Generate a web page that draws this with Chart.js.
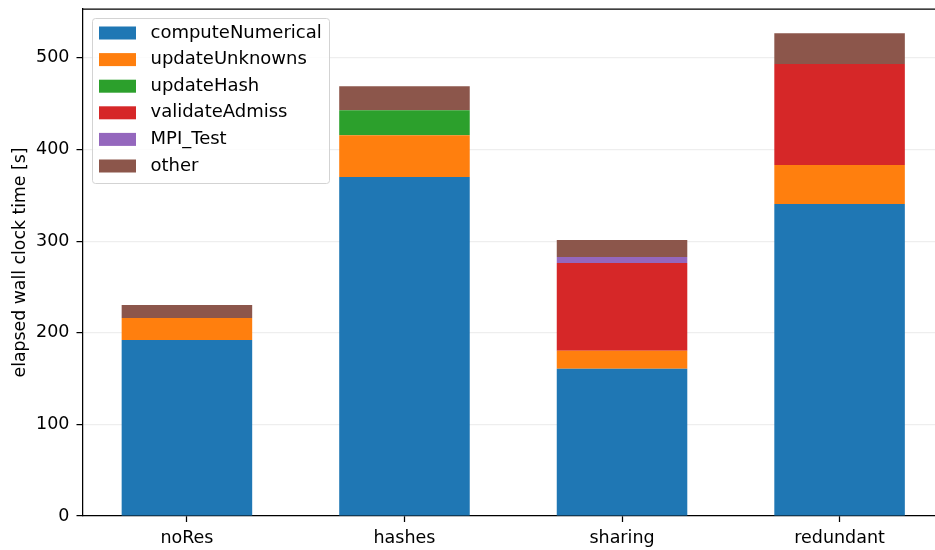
<!DOCTYPE html>
<html>
<head>
<meta charset="utf-8">
<script src="https://cdn.jsdelivr.net/npm/chart.js@4.4.0/dist/chart.umd.min.js"></script>
<style>
  html, body { margin: 0; padding: 0; background: #fff; overflow: hidden; }
  #wrap { width: 960px; height: 550px; }
</style>
</head>
<body>
<div id="wrap"><canvas id="timeChart"></canvas></div>
<script>
// categories (x) and the stacked series, in seconds
const categories = ['noRes', 'hashes', 'sharing', 'redundant'];
const computeNumerical = [192, 370, 160.6, 340.6];
const updateUnknowns = [24, 45.6, 19.7, 42.5];
const updateHash = [0, 27.3, 0, 0];
const validateAdmiss = [0, 0, 95.9, 110.1];
const mpiTest = [0, 0, 6.5, 0];
const other = [14.4, 26.2, 18.5, 33.8];
const yTicks = [0, 100, 200, 300, 400, 500];

const seriesNames = ['computeNumerical', 'updateUnknowns', 'updateHash', 'validateAdmiss', 'MPI_Test', 'other'];
const seriesValues = [computeNumerical, updateUnknowns, updateHash, validateAdmiss, mpiTest, other];
const seriesColors = ['#1f77b4', '#ff7f0e', '#2ca02c', '#d62728', '#9467bd', '#8c564b'];

const FONT = 'DejaVu Sans';
const barWidth = 0.6;
const xPad = (categories.length - 1 + barWidth) * 0.05;

// matplotlib style: 5% headroom above the tallest stack
const totals = categories.map((c, i) => seriesValues.reduce((s, arr) => s + arr[i], 0));
const yMax = Math.max(...totals) * 1.05;

const datasets = seriesNames.map((name, k) => ({
    label: name,
    data: seriesValues[k].map((v, i) => ({ x: i, y: v })),
    backgroundColor: seriesColors[k],
    borderWidth: 0,
    categoryPercentage: 1,
    barPercentage: barWidth
}));

// top spine + legend box drawn inside the plot like matplotlib
const frameAndLegend = {
    id: 'frameAndLegend',
    afterDraw(chart) {
        const ctx = chart.ctx;
        const area = chart.chartArea;
        ctx.save();
        ctx.strokeStyle = '#000';
        ctx.lineWidth = 1.25;
        ctx.beginPath();
        ctx.moveTo(area.left, area.top);
        ctx.lineTo(area.right, area.top);
        ctx.lineTo(area.right, area.bottom);
        ctx.stroke();

        const bx = area.left + 10, by = area.top + 9.5;
        ctx.beginPath();
        ctx.roundRect(bx, by, 237, 165, 3);
        ctx.fillStyle = 'rgba(255,255,255,0.8)';
        ctx.fill();
        ctx.strokeStyle = '#d3d3d3';
        ctx.lineWidth = 1;
        ctx.stroke();

        ctx.font = '18px "' + FONT + '"';
        ctx.textBaseline = 'middle';
        chart.data.datasets.forEach((ds, i) => {
            const y = by + 8 + i * 26.6;
            ctx.fillStyle = ds.backgroundColor;
            ctx.fillRect(bx + 6.5, y, 37, 13);
            ctx.fillStyle = '#000';
            ctx.fillText(ds.label, bx + 58, y + 6.5);
        });
        ctx.restore();
    }
};

const ctx = document.getElementById('timeChart').getContext('2d');
new Chart(ctx, {
    type: 'bar',
    data: { datasets: datasets },
    plugins: [frameAndLegend],
    options: {
        responsive: true,
        maintainAspectRatio: false,
        animation: false,
        layout: { padding: { top: 9, right: 16, left: 0, bottom: 0 } },
        plugins: {
            legend: { display: false },
            tooltip: { enabled: false }
        },
        scales: {
            x: {
                type: 'linear',
                stacked: true,
                offset: false,
                min: -barWidth / 2 - xPad,
                max: categories.length - 1 + barWidth / 2 + xPad,
                afterBuildTicks: axis => { axis.ticks = categories.map((c, i) => ({ value: i })); },
                afterFit: axis => { axis.height = 34; axis.paddingLeft = 0; axis.paddingRight = 0; },
                grid: { offset: false, drawOnChartArea: false, drawTicks: true, tickLength: 6, tickColor: '#000', tickWidth: 1.25 },
                border: { color: '#000', width: 1.25 },
                ticks: {
                    autoSkip: false,
                    padding: 6,
                    color: '#000',
                    font: { family: FONT, size: 17.5 },
                    callback: value => categories[value]
                }
            },
            y: {
                stacked: true,
                min: 0,
                max: yMax,
                z: 1,
                afterBuildTicks: axis => { axis.ticks = yTicks.map(v => ({ value: v })); },
                afterFit: axis => { axis.width = 82.5; axis.paddingTop = 0; axis.paddingBottom = 0; },
                grid: { color: 'rgba(200,200,200,0.3)', lineWidth: 1.2, tickLength: 6, tickColor: '#000', tickWidth: 1.25 },
                border: { color: '#000', width: 1.25 },
                ticks: {
                    padding: 7,
                    color: '#000',
                    font: { family: FONT, size: 17.5 }
                },
                title: {
                    display: true,
                    text: 'elapsed wall clock time [s]',
                    color: '#000',
                    font: { family: FONT, size: 17.3 },
                    padding: { top: 10, bottom: 0 }
                }
            }
        }
    }
});
</script>
</body>
</html>
